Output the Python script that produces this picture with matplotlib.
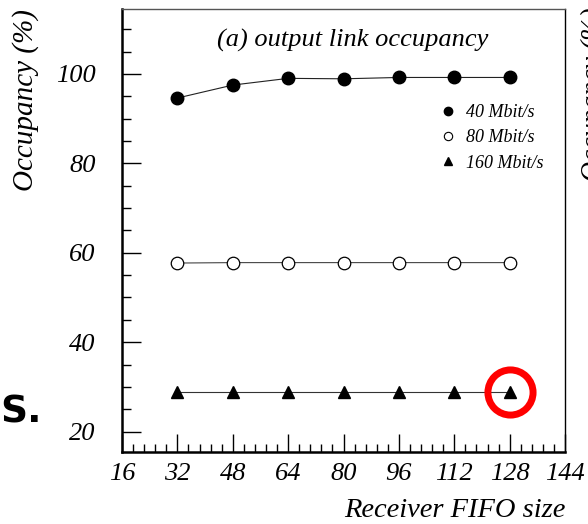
import numpy as np
import matplotlib.pyplot as plt
from matplotlib.lines import Line2D
from matplotlib.ticker import MultipleLocator

# taille du FIFO recepteur et occupation du lien de sortie (%)
fifo = [32, 48, 64, 80, 96, 112, 128]
occ_40 = [94.6, 97.5, 99.0, 98.9, 99.2, 99.2, 99.2]
occ_80 = [57.7, 57.8, 57.8, 57.8, 57.8, 57.8, 57.8]
occ_160 = [28.8, 28.8, 28.8, 28.8, 28.8, 28.8, 28.8]
labels = ["40 Mbit/s", "80 Mbit/s", "160 Mbit/s"]
x_ticks = [16, 32, 48, 64, 80, 96, 112, 128, 144]
y_ticks = [20, 40, 60, 80, 100]

plt.rcParams["font.family"] = ["Liberation Serif", "DejaVu Serif"]
plt.rcParams["font.style"] = "italic"

fig = plt.figure(figsize=(5.88, 5.24), dpi=100)
ax = fig.add_axes([0.2075, 0.1374, 0.7535, 0.8445])

lw = 0.8
ax.plot(fifo, occ_40, color="#222222", lw=lw, marker="o", ms=9,
        mfc="black", mec="black")
ax.plot(fifo, occ_80, color="#444444", lw=lw, marker="o", ms=9,
        mfc="white", mec="black", mew=0.9)
ax.plot(fifo, occ_160, color="#333333", lw=lw, marker="^", ms=8.5,
        mfc="black", mec="black")

# cercle rouge autour du dernier point
ax.plot(fifo[-1], occ_160[-1], marker="o", ms=32.5, mfc="none",
        mec="#ff0000", mew=5.0, zorder=5)

ax.set_xlim(16, 144)
ax.set_ylim(15.45, 114.4)
ax.set_xticks(x_ticks, labels=[str(v) for v in x_ticks], fontstyle="italic")
ax.set_yticks(y_ticks, labels=[str(v) for v in y_ticks], fontstyle="italic")
ax.xaxis.set_minor_locator(MultipleLocator(3.2))
ax.yaxis.set_minor_locator(MultipleLocator(5))

ax.tick_params(axis="y", which="major", direction="in", length=13.7,
               width=1.0, pad=19, labelsize=19, right=False)
ax.tick_params(axis="y", which="minor", direction="in", length=6.5,
               width=1.0, right=False)
ax.tick_params(axis="x", which="major", direction="in", length=13,
               width=1.0, pad=8, labelsize=19, top=False)
ax.tick_params(axis="x", which="minor", direction="in", length=6,
               width=1.0, top=False)

for s in ["left", "bottom"]:
    ax.spines[s].set_linewidth(1.8)
ax.spines["top"].set_linewidth(1.0)
ax.spines["top"].set_color("#555555")
ax.spines["right"].set_linewidth(1.0)

ax.set_xlabel("Receiver FIFO size", fontsize=20.5, loc="right", labelpad=9)
ax.set_ylabel("Occupancy (%)", fontsize=21, loc="top", labelpad=12)

ax.text(0.52, 0.931, "(a) output link occupancy", transform=ax.transAxes,
        ha="center", va="center", fontsize=19)

handles = [
    Line2D([], [], ls="none", marker="o", ms=6, mfc="black", mec="black"),
    Line2D([], [], ls="none", marker="o", ms=6, mfc="white", mec="black", mew=0.8),
    Line2D([], [], ls="none", marker="^", ms=6, mfc="black", mec="black"),
]
ax.legend(handles, labels, loc="upper left", bbox_to_anchor=(0.695, 0.806),
          frameon=False, fontsize=13, handlelength=1.0, handletextpad=0.5,
          labelspacing=0.45, borderpad=0)

# restes des figures voisines
fig.text(0.0, 0.212, "S.", fontsize=27, fontweight="bold", style="normal",
         family="DejaVu Sans", ha="left", va="center")
fig.text(0.988, 0.82, "Occupancy (%)", fontsize=20, rotation=90,
         ha="left", va="center")

fig.savefig("out.png", dpi=100)
